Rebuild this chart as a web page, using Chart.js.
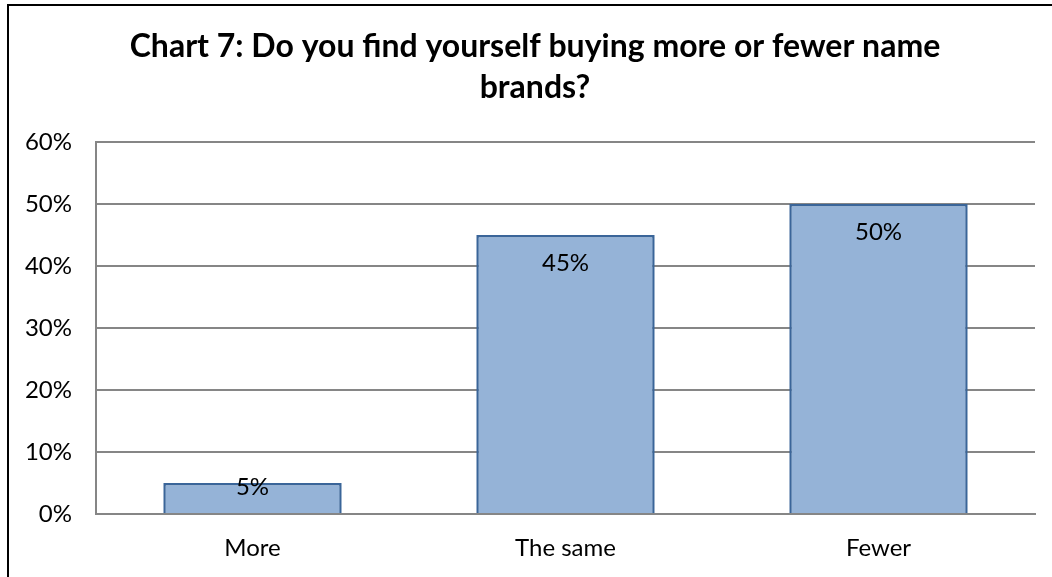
<!DOCTYPE html>
<html>
<head>
<meta charset="utf-8">
<script src="https://cdn.jsdelivr.net/npm/chart.js@4"></script>
<style>
  html, body { margin: 0; padding: 0; background: #fff; overflow: hidden; }
  #frame {
    position: absolute; left: 7px; top: 4px;
    width: 1100px; height: 620px;
    border: 2px solid #000;
  }
  #wrap { position: absolute; left: 0; top: 0; width: 1052px; height: 577px; }
</style>
</head>
<body>
<div id="frame"></div>
<div id="wrap"><canvas id="myChart" width="1052" height="577"></canvas></div>
<script>
const categories = ["More", "The same", "Fewer"];
const percentages = [5, 45, 50];
const yTicks = [0, 10, 20, 30, 40, 50, 60];
const titleLines = ["Chart 7: Do you find yourself buying more or fewer name", "brands?"];

const fontFamily = "Lato, 'Liberation Sans', sans-serif";

// two-line bold heading, centred on the frame rather than the canvas
const chartHeading = {
  id: "chartHeading",
  afterDraw(chart) {
    const ctx = chart.ctx;
    ctx.save();
    ctx.font = "bold 32px " + fontFamily;
    ctx.fillStyle = "#000";
    ctx.textAlign = "center";
    ctx.textBaseline = "middle";
    titleLines.forEach((line, i) => {
      ctx.fillText(line, 535, 46.5 + i * 41);
    });
    ctx.restore();
  },
};

// value labels inside the top end of each bar
const barLabels = {
  id: "barLabels",
  afterDatasetsDraw(chart) {
    const ctx = chart.ctx;
    const meta = chart.getDatasetMeta(0);
    const base = chart.scales.y.getPixelForValue(0);
    ctx.save();
    ctx.font = "24px " + fontFamily;
    ctx.fillStyle = "#000";
    ctx.textAlign = "center";
    ctx.textBaseline = "middle";
    meta.data.forEach((bar, i) => {
      var y = Math.min(bar.y + 28, base - 27);
      ctx.fillText(percentages[i] + "%", bar.x, y);
    });
    ctx.restore();
  },
};

document.addEventListener("DOMContentLoaded", (event) => {
  var ctx = document.getElementById("myChart").getContext("2d");

  new Chart(ctx, {
    type: "bar",
    data: {
      labels: categories,
      datasets: [
        {
          data: percentages,
          backgroundColor: "#95b3d7",
          borderColor: "#3a6599",
          borderWidth: 2.5,
          barPercentage: 0.57,
          categoryPercentage: 1,
        },
      ],
    },
    options: {
      responsive: false,
      animation: false,
      layout: { padding: { left: 0, right: 17, top: 142, bottom: 0 } },
      plugins: {
        legend: { display: false },
        tooltip: { enabled: false },
        title: { display: false },
      },
      scales: {
        x: {
          afterFit: (scale) => {
            scale.height = 63;
          },
          grid: { display: false, drawTicks: false },
          border: { color: "#868686", width: 2 },
          ticks: { color: "#000", font: { family: fontFamily, size: 24 }, padding: 20 },
        },
        y: {
          min: 0,
          max: 60,
          afterBuildTicks: (scale) => {
            scale.ticks = yTicks.map((v) => ({ value: v }));
          },
          afterFit: (scale) => {
            scale.width = 96;
          },
          grid: { color: "#868686", lineWidth: 2, drawTicks: false },
          border: { color: "#868686", width: 2 },
          ticks: {
            color: "#000",
            font: { family: fontFamily, size: 24 },
            padding: 24,
            callback: (v) => v + "%",
          },
        },
      },
    },
    plugins: [barLabels, chartHeading],
  });
});
</script>
</body>
</html>
